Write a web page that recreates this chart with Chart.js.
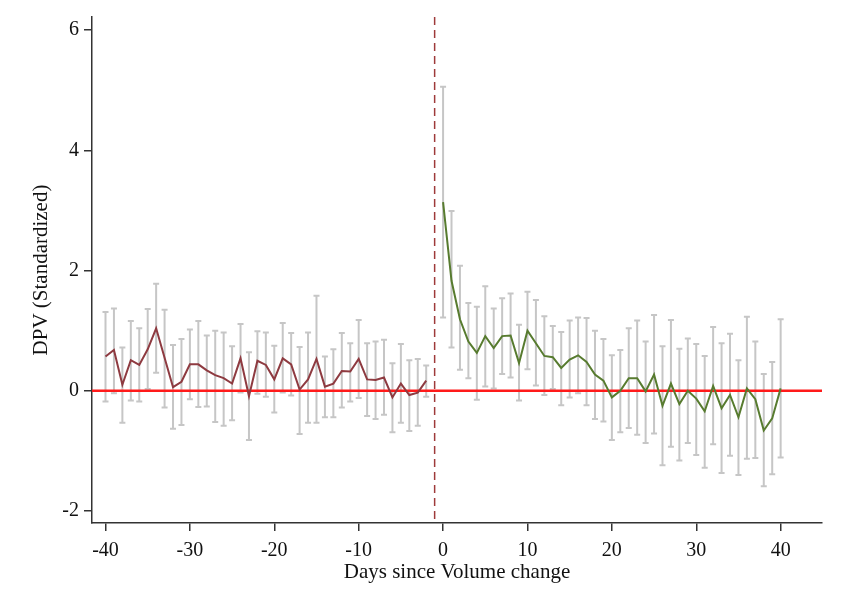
<!DOCTYPE html>
<html>
<head>
<meta charset="utf-8">
<script src="https://cdn.jsdelivr.net/npm/chart.js@4/dist/chart.umd.min.js"></script>
<style>
  body { margin: 0; background: #fff; }
  #wrap { width: 849px; height: 615px; }
</style>
</head>
<body>
<div id="wrap"><canvas id="dpvChart" width="849" height="615"></canvas></div>
<script>
// days before / after the volume change
const preDays = [-40, -39, -38, -37, -36, -35, -34, -33, -32, -31, -30, -29, -28, -27, -26, -25, -24, -23, -22, -21,
                 -20, -19, -18, -17, -16, -15, -14, -13, -12, -11, -10, -9, -8, -7, -6, -5, -4, -3, -2];
const postDays = [0, 1, 2, 3, 4, 5, 6, 7, 8, 9, 10, 11, 12, 13, 14, 15, 16, 17, 18, 19, 20,
                  21, 22, 23, 24, 25, 26, 27, 28, 29, 30, 31, 32, 33, 34, 35, 36, 37, 38, 39, 40];

// point estimates
const preCoef = [0.57, 0.68, 0.10, 0.51, 0.43, 0.69, 1.04, 0.55, 0.06, 0.15, 0.44, 0.44, 0.34, 0.26, 0.21, 0.12, 0.54, -0.09, 0.50, 0.43,
                 0.19, 0.54, 0.44, 0.02, 0.19, 0.53, 0.07, 0.12, 0.33, 0.32, 0.53, 0.19, 0.18, 0.22, -0.11, 0.12, -0.07, -0.03, 0.17];
const postCoef = [3.14, 1.83, 1.19, 0.82, 0.63, 0.91, 0.71, 0.91, 0.92, 0.46, 1.00, 0.79, 0.58, 0.56, 0.38, 0.52, 0.59, 0.48, 0.27, 0.17, -0.11,
                  0.00, 0.21, 0.21, -0.01, 0.27, -0.25, 0.12, -0.22, 0.00, -0.13, -0.34, 0.08, -0.29, -0.07, -0.44, 0.04, -0.14, -0.66, -0.46, 0.04];

// confidence intervals
const preHi = [1.31, 1.37, 0.72, 1.16, 1.04, 1.36, 1.78, 1.35, 0.76, 0.86, 1.02, 1.16, 0.92, 1.00, 0.97, 0.74, 1.11, 0.64, 0.99, 0.97,
               0.75, 1.13, 0.96, 0.73, 0.97, 1.58, 0.57, 0.69, 0.96, 0.79, 1.18, 0.79, 0.82, 0.85, 0.46, 0.78, 0.51, 0.53, 0.42];
const preLo = [-0.18, -0.04, -0.53, -0.16, -0.18, 0.03, 0.30, -0.28, -0.63, -0.57, -0.14, -0.27, -0.26, -0.52, -0.58, -0.49, -0.03, -0.82, -0.05, -0.10,
               -0.36, -0.03, -0.08, -0.72, -0.53, -0.53, -0.44, -0.44, -0.28, -0.18, -0.12, -0.42, -0.47, -0.40, -0.69, -0.53, -0.67, -0.58, -0.10];
const postHi = [5.06, 2.99, 2.08, 1.46, 1.40, 1.74, 1.37, 1.54, 1.62, 1.10, 1.65, 1.51, 1.24, 1.08, 0.98, 1.17, 1.22, 1.21, 1.00, 0.86, 0.59,
                0.68, 1.04, 1.17, 0.82, 1.26, 0.74, 1.18, 0.70, 0.87, 0.78, 0.58, 1.06, 0.79, 0.95, 0.51, 1.23, 0.82, 0.28, 0.48, 1.19];
const postLo = [1.22, 0.72, 0.35, 0.21, -0.15, 0.07, 0.04, 0.28, 0.22, -0.16, 0.36, 0.09, -0.07, 0.03, -0.24, -0.11, -0.04, -0.24, -0.47, -0.51, -0.82,
                -0.69, -0.62, -0.73, -0.87, -0.71, -1.24, -0.93, -1.16, -0.87, -1.07, -1.28, -0.89, -1.37, -1.08, -1.40, -1.13, -1.12, -1.59, -1.39, -1.11];

const xTicks = [-40, -30, -20, -10, 0, 10, 20, 30, 40];
const yTicks = [-2, 0, 2, 4, 6];
const eventLine = -1;

const serif = "'Liberation Serif', 'Times New Roman', serif";

// grey CI whiskers, the zero line and the event line
const refPlugin = {
    id: 'refLines',
    beforeDatasetsDraw(chart) {
        const ctx = chart.ctx;
        const x = chart.scales.x;
        const y = chart.scales.y;
        const area = chart.chartArea;

        ctx.save();
        ctx.strokeStyle = '#c6c6c6';
        ctx.lineWidth = 2;
        const cap = 3;
        function whisker(day, lo, hi) {
            const px = x.getPixelForValue(day);
            const p1 = y.getPixelForValue(lo);
            const p2 = y.getPixelForValue(hi);
            ctx.beginPath();
            ctx.moveTo(px, p1); ctx.lineTo(px, p2);
            ctx.moveTo(px - cap, p1); ctx.lineTo(px + cap, p1);
            ctx.moveTo(px - cap, p2); ctx.lineTo(px + cap, p2);
            ctx.stroke();
        }
        preDays.forEach((d, i) => whisker(d, preLo[i], preHi[i]));
        postDays.forEach((d, i) => whisker(d, postLo[i], postHi[i]));

        // zero line
        const y0 = y.getPixelForValue(0);
        ctx.strokeStyle = '#ff1a1a';
        ctx.lineWidth = 2.5;
        ctx.beginPath();
        ctx.moveTo(area.left, y0);
        ctx.lineTo(area.right, y0);
        ctx.stroke();

        // event line
        const xe = x.getPixelForValue(eventLine);
        ctx.strokeStyle = '#9e3a3a';
        ctx.lineWidth = 1.5;
        ctx.setLineDash([8, 5]);
        ctx.beginPath();
        ctx.moveTo(xe, area.top);
        ctx.lineTo(xe, area.bottom);
        ctx.stroke();
        ctx.restore();
    }
};

const ctx = document.getElementById('dpvChart');

new Chart(ctx, {
    type: 'line',
    data: {
        datasets: [{
            label: 'Before',
            data: preDays.map((d, i) => ({ x: d, y: preCoef[i] })),
            borderColor: '#8e3a40',
            borderWidth: 2,
            pointRadius: 0,
            tension: 0
        }, {
            label: 'After',
            data: postDays.map((d, i) => ({ x: d, y: postCoef[i] })),
            borderColor: '#577b2f',
            borderWidth: 2,
            pointRadius: 0,
            tension: 0
        }]
    },
    options: {
        responsive: false,
        animation: false,
        layout: {
            padding: { left: 0, top: 17, right: 27, bottom: 0 }
        },
        plugins: {
            legend: { display: false },
            tooltip: { enabled: false }
        },
        scales: {
            x: {
                type: 'linear',
                min: -41.6,
                max: 44.9,
                afterBuildTicks: scale => { scale.ticks = xTicks.map(v => ({ value: v })); },
                afterFit: scale => { scale.height = 92; },
                grid: { drawOnChartArea: false, drawTicks: true, tickLength: 8, color: '#333', lineWidth: 1.5 },
                border: { display: true, color: '#333', width: 1.5 },
                ticks: { color: '#111', font: { family: serif, size: 20 }, padding: 8, maxRotation: 0 },
                title: {
                    display: true,
                    text: 'Days since Volume change',
                    color: '#111',
                    font: { family: serif, size: 21 },
                    padding: { top: 0, bottom: 30 }
                }
            },
            y: {
                min: -2.2,
                max: 6.22,
                afterBuildTicks: scale => { scale.ticks = yTicks.map(v => ({ value: v })); },
                afterFit: scale => { scale.width = 92; },
                grid: { drawOnChartArea: false, drawTicks: true, tickLength: 8, color: '#333', lineWidth: 1.5 },
                border: { display: true, color: '#333', width: 1.5 },
                ticks: { color: '#111', font: { family: serif, size: 20 }, padding: 5 },
                title: {
                    display: true,
                    text: 'DPV (Standardized)',
                    color: '#111',
                    font: { family: serif, size: 21 },
                    padding: { top: 29, bottom: 0 }
                }
            }
        }
    },
    plugins: [refPlugin]
});
</script>
</body>
</html>
